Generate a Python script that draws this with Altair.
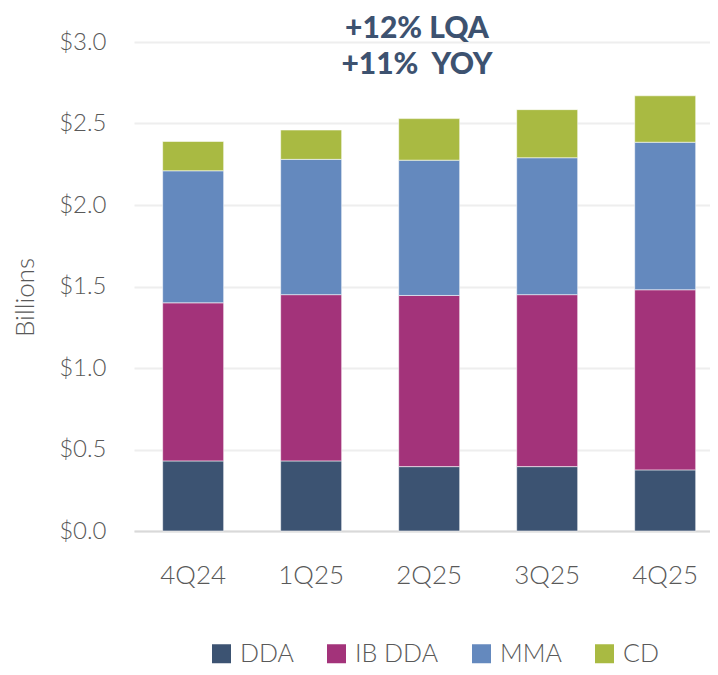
import altair as alt
import pandas as pd

quarters = ["4Q24", "1Q25", "2Q25", "3Q25", "4Q25"]
series = ["DDA", "IB DDA", "MMA", "CD"]
dda = [0.43, 0.43, 0.395, 0.395, 0.375]
ib_dda = [0.97, 1.02, 1.05, 1.055, 1.105]
mma = [0.81, 0.83, 0.83, 0.84, 0.905]
cd = [0.18, 0.18, 0.255, 0.295, 0.285]
colors = ["#3C5372", "#A3337A", "#6489BE", "#A9BA42"]
title_lines = ["+12% LQA", "+11%\u00a0 YOY"]

rows = []
for s_i, (name, vals) in enumerate(zip(series, [dda, ib_dda, mma, cd])):
    for q, v in zip(quarters, vals):
        rows.append({"Quarter": q, "Series": name, "Value": v, "order": s_i})
df = pd.DataFrame(rows)

FONT = "Lato"
GRAY = "#595959"

chart = alt.Chart(df).mark_bar(
    stroke="white", strokeWidth=0.8, strokeOpacity=0.7
).encode(
    x=alt.X("Quarter:N", sort=quarters,
            scale=alt.Scale(paddingInner=0.483, paddingOuter=0.182, align=0.667),
            axis=alt.Axis(title=None, labelAngle=0, labelFontSize=26, labelFont=FONT,
                          labelFontWeight=300, labelColor=GRAY, labelPadding=31,
                          ticks=False, domainColor="#D9D9D9", domainWidth=2)),
    y=alt.Y("Value:Q", stack="zero",
            scale=alt.Scale(domain=[0, 3.0], nice=False),
            axis=alt.Axis(title="Billions", format="$.1f", values=[0, 0.5, 1.0, 1.5, 2.0, 2.5, 3.0],
                          labelFontSize=24, labelFont=FONT, labelFontWeight=300,
                          labelColor=GRAY, labelPadding=28, ticks=False, domain=False,
                          gridColor="#EEEEEE", gridWidth=2,
                          titleFont=FONT, titleFontSize=26, titleFontWeight=300,
                          titleColor=GRAY, titleAngle=-90, titleX=-109, titleY=255,
                          titleAlign="center", titleBaseline="middle")),
    color=alt.Color("Series:N", sort=series,
                    scale=alt.Scale(domain=series, range=colors),
                    legend=alt.Legend(title=None, orient="none", direction="horizontal",
                                      legendX=75, legendY=599,
                                      symbolType="square", symbolSize=361,
                                      symbolStrokeWidth=0, labelFontSize=25,
                                      labelFont=FONT, labelFontWeight=300, labelColor=GRAY,
                                      labelOffset=6, columnPadding=30)),
    order=alt.Order("order:Q", sort="ascending"),
).properties(
    width=576,
    height=489,
    autosize=alt.AutoSizeParams(type="none"),
    padding={"left": 126, "top": 34, "right": 0, "bottom": 136},
    title=alt.TitleParams(text=title_lines, anchor="middle", frame="group",
                          font=FONT, fontSize=30, fontWeight=900, color="#3D5270",
                          lineHeight=36, baseline="top", offset=-50, dx=-5),
).configure_view(stroke=None)

chart.save("out.html", embed_options={"renderer": "svg", "actions": False})
